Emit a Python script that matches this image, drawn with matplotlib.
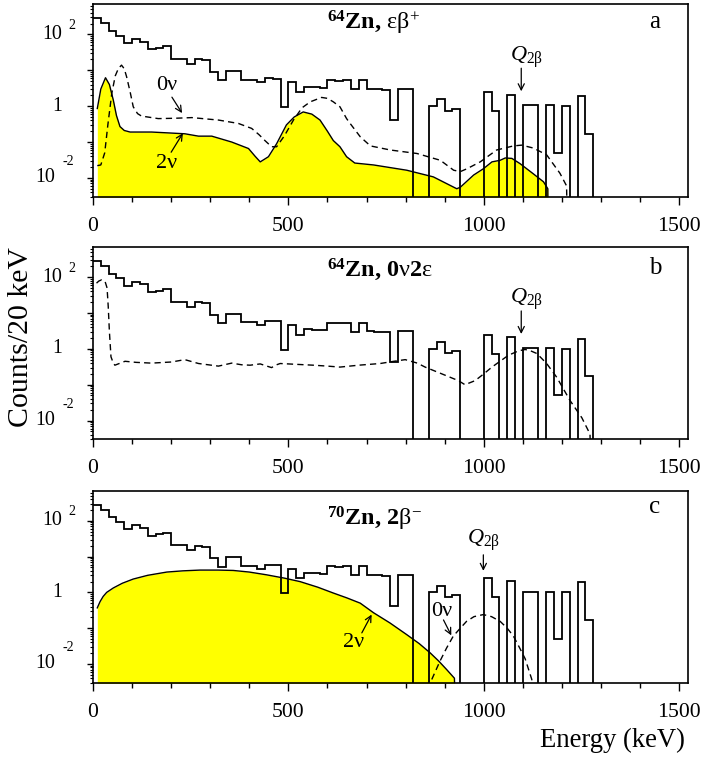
import numpy as np
import matplotlib
matplotlib.use('Agg')
import matplotlib.pyplot as plt
from matplotlib.ticker import LogLocator, NullFormatter, MultipleLocator, FixedLocator
import matplotlib.transforms as mtransforms

plt.rcParams['font.family'] = ['Liberation Serif', 'DejaVu Serif']
plt.rcParams['mathtext.fontset'] = 'custom'
plt.rcParams['mathtext.rm'] = 'Liberation Serif'
plt.rcParams['mathtext.it'] = 'Liberation Serif:italic'
plt.rcParams['mathtext.bf'] = 'Liberation Serif:bold'

# ---------------- data ----------------
bin_width = 20  # keV
counts = [280, 205, 125, 92, 58, 75, 63, 38, 42, 47,
          20.5, 20.5, 15, 20, 19, 9, 5.2, 9.5, 9.5, 5.5,
          5.5, 4.6, 6.0, 5.8, 0.95, 4.6, 2.5, 3.5, 3.4, 3.3,
          5.4, 5.1, 5.3, 3.0, 5.3, 3.1, 3.0, 2.9, 0.42, 3.1,
          3.1, 0, 0, 1.0, 1.55, 0.75, 0.85, 0, 0, 0,
          2.5, 0.74, 0, 2.1, 0, 1.05, 1.05, 0, 1.05, 0.05,
          1.0, 0, 1.9, 0.17, 0, 0, 0, 0, 0, 0,
          0, 0, 0, 0, 0, 0]

# panel a : 64Zn eps beta+
a_2nu_E = [11, 20, 32, 42, 52, 60, 69, 80, 95, 150, 235, 270, 304, 355, 398, 415,
           428, 449, 470, 495, 515, 538, 560, 581, 600, 615, 632, 649, 670, 718,
           803, 871, 931, 940, 974, 999, 1021, 1042, 1055, 1072, 1093, 1127, 1153,
           1164, 1166]
a_2nu_v = [0.86, 3.0, 6.2, 4.0, 1.47, 0.55, 0.27, 0.21, 0.19, 0.19, 0.17, 0.146,
           0.146, 0.10, 0.066, 0.04, 0.028, 0.039, 0.09, 0.30, 0.5, 0.69, 0.6,
           0.41, 0.2, 0.11, 0.074, 0.039, 0.026, 0.023, 0.0164, 0.0107, 0.005,
           0.0055, 0.012, 0.018, 0.028, 0.031, 0.036, 0.035, 0.025, 0.013,
           0.0078, 0.005, 0]
a_0nu_E = [11, 20, 30, 38, 48, 57, 65, 73, 80, 86, 95, 103, 114, 124, 167, 210,
           253, 290, 321, 372, 406, 425, 440, 457, 470, 490, 513, 535, 556, 585,
           600, 615, 632, 649, 658, 684, 710, 761, 829, 889, 923, 940, 957, 991,
           1033, 1076, 1097, 1127, 1161, 1195, 1212, 1220]
a_0nu_v = [0.022, 0.023, 0.05, 0.3, 2.25, 7, 11.2, 13.9, 11, 6.6, 2.5, 0.96,
           0.62, 0.53, 0.45, 0.46, 0.48, 0.44, 0.41, 0.33, 0.24, 0.16, 0.11,
           0.074, 0.074, 0.15, 0.41, 0.9, 1.32, 1.75, 1.65, 1.32, 0.96, 0.45,
           0.33, 0.14, 0.078, 0.06, 0.048, 0.031, 0.0164, 0.015, 0.018, 0.028,
           0.06, 0.078, 0.082, 0.068, 0.044, 0.0135, 0.006, 0]

# panel b : 64Zn 0nu2eps
b_0nu_E = [9, 15, 22, 31, 36, 39, 42, 46, 52, 56, 82, 110, 150, 201, 235, 270,
           321, 355, 380, 402, 428, 445, 457, 470, 479, 520, 564, 600, 632, 680,
           735, 770, 799, 830, 850, 893, 935, 952, 978, 1000, 1021, 1063, 1089,
           1106, 1120, 1136, 1161, 1187, 1221, 1251, 1272, 1280]
b_0nu_v = [68, 78, 84, 75, 50, 15, 3, 0.6, 0.4, 0.35, 0.45, 0.42, 0.4, 0.43,
           0.5, 0.39, 0.33, 0.4, 0.36, 0.35, 0.38, 0.33, 0.3, 0.36, 0.39, 0.37,
           0.35, 0.33, 0.31, 0.35, 0.39, 0.45, 0.5, 0.4, 0.31, 0.2, 0.13, 0.1,
           0.13, 0.2, 0.31, 0.66, 0.88, 0.96, 0.88, 0.74, 0.39, 0.16, 0.036,
           0.012, 0.0042, 0]

# panel c : 70Zn 2beta-
c_2nu_E = [11, 18, 26, 35, 52, 75, 103, 140, 189, 230, 274, 320, 359, 400, 444,
           490, 530, 575, 615, 650, 684, 718, 760, 803, 835, 863, 885, 905, 925,
           936]
c_2nu_v = [0.37, 0.55, 0.77, 1.0, 1.33, 1.8, 2.36, 3.0, 3.7, 4.0, 4.2, 4.2, 4.1,
           3.7, 3.1, 2.5, 2.0, 1.4, 0.96, 0.7, 0.5, 0.27, 0.14, 0.066, 0.037,
           0.0204, 0.012, 0.0070, 0.004, 0]
c_0nu_E = [867, 888, 905, 922, 940, 956, 975, 999, 1020, 1042, 1060, 1076, 1092,
           1106, 1123, 1130]
c_0nu_v = [0.0037, 0.012, 0.028, 0.06, 0.1, 0.155, 0.21, 0.24, 0.21, 0.155, 0.1,
           0.06, 0.028, 0.014, 0.0037, 0]

titles = [r"$^{\mathbf{64}}$Zn, $\mathrm{εβ}^{+}$",
          r"$^{\mathbf{64}}$Zn, 0$\mathrm{ν}$2$\mathrm{ε}$",
          r"$^{\mathbf{70}}$Zn, 2$\mathrm{β}^{-}$"]
panel_letters = ['a', 'b', 'c']
q_label = r"$Q_{\mathrm{2β}}$"

# ---------------- figure ----------------
W, H = 704, 761
fig = plt.figure(figsize=(W / 100, H / 100), dpi=100)

boxes = [(93, 4.5, 687.7, 196.7), (93, 247.3, 687.7, 439.3), (93, 491, 687.7, 682.7)]
title_y = [0.905, 0.88, 0.857]
letter_y = [0.91, 0.89, 0.918]

FLOOR = 1e-7
YLO, YHI = 3.0e-3, 680
edges = np.arange(len(counts) + 1) * bin_width
cvals = np.maximum(np.array(counts, float), FLOOR)

axes = []
for i, (x0, y0, x1, y1) in enumerate(boxes):
    ax = fig.add_axes([x0 / W, 1 - y1 / H, (x1 - x0) / W, (y1 - y0) / H])
    axes.append(ax)
    ax.set_yscale('log')
    ax.set_xlim(0, 1522)
    ax.set_ylim(YLO, YHI)
    for s in ax.spines.values():
        s.set_linewidth(1.2)
    ax.xaxis.set_major_locator(FixedLocator([0, 500, 1000, 1500]))
    ax.xaxis.set_minor_locator(MultipleLocator(100))
    ax.yaxis.set_major_locator(LogLocator(base=10, numticks=20))
    ax.yaxis.set_minor_locator(LogLocator(base=10, subs=np.arange(2, 10), numticks=20))
    ax.yaxis.set_major_formatter(NullFormatter())
    ax.yaxis.set_minor_formatter(NullFormatter())
    ax.tick_params(axis='x', which='major', direction='out', length=5.5, width=1.0,
                   labelsize=15.6, pad=9, top=False)
    ax.tick_params(axis='x', which='minor', direction='out', length=3.5, width=1.0, top=False)
    ax.tick_params(axis='y', which='major', direction='out', length=4.0, width=1.0, right=False)
    ax.tick_params(axis='y', which='minor', direction='out', length=2.5, width=0.8, right=False)

    # custom y labels (ROOT style)
    tr = mtransforms.blended_transform_factory(ax.transAxes, ax.transData)
    ax.text(-0.052, 100, "10", transform=tr, ha='right', va='center', fontsize=14.4)
    ax.text(-0.042, 10 ** 2.25, "2", transform=tr, ha='left', va='center', fontsize=10)
    ax.text(-0.052, 1, "1", transform=tr, ha='right', va='center', fontsize=14.4)
    ax.text(-0.064, 0.01, "10", transform=tr, ha='right', va='center', fontsize=14.4)
    ax.text(-0.051, 10 ** -1.55, "-2", transform=tr, ha='left', va='center', fontsize=10)

    ax.text(0.393, title_y[i], titles[i], transform=ax.transAxes, ha='left', va='center',
            fontsize=17.5, fontweight='bold')
    ax.text(0.945, letter_y[i], panel_letters[i], transform=ax.transAxes, ha='center',
            va='center', fontsize=18)

dash = (0, (4.5, 3))
arw = dict(arrowstyle='->', lw=0.9, color='k', shrinkA=0, shrinkB=0, mutation_scale=11)


def arrow(ax, start, end):
    ax.annotate("", xy=end, xytext=start, arrowprops=arw)


# panel a
ax = axes[0]
v = np.maximum(np.array(a_2nu_v), FLOOR)
ax.fill_between(a_2nu_E, v, FLOOR, color='#ffff00', lw=0, zorder=1)
ax.plot(a_2nu_E, v, color='k', lw=1.0, zorder=2)
ax.plot(a_0nu_E, np.maximum(np.array(a_0nu_v), FLOOR), color='k', lw=1.0, ls=dash, zorder=2)
ax.stairs(cvals, edges, baseline=None, color='k', lw=1.3, zorder=3)
ax.text(189, 3.8, "0ν", ha='center', va='center', fontsize=16)
arrow(ax, (202, 1.78), (228, 0.64))
ax.text(189, 0.025, "2ν", ha='center', va='center', fontsize=16)
arrow(ax, (200, 0.052), (230, 0.176))
arrow(ax, (1096, 11.4), (1096, 2.6))
ax.text(1110, 23.6, q_label, ha='center', va='center', fontsize=16)

# panel b
ax = axes[1]
ax.plot(b_0nu_E, np.maximum(np.array(b_0nu_v), FLOOR), color='k', lw=1.0, ls=dash, zorder=2)
ax.stairs(cvals, edges, baseline=None, color='k', lw=1.3, zorder=3)
arrow(ax, (1096, 11.4), (1096, 2.6))
ax.text(1110, 23.6, q_label, ha='center', va='center', fontsize=16)

# panel c
ax = axes[2]
v = np.maximum(np.array(c_2nu_v), FLOOR)
ax.fill_between(c_2nu_E, v, FLOOR, color='#ffff00', lw=0, zorder=1)
ax.plot(c_2nu_E, v, color='k', lw=1.0, zorder=2)
ax.plot(c_0nu_E, np.maximum(np.array(c_0nu_v), FLOOR), color='k', lw=1.0, ls=dash, zorder=2)
ax.stairs(cvals, edges, baseline=None, color='k', lw=1.3, zorder=3)
ax.text(893, 0.3, "0ν", ha='center', va='center', fontsize=16)
arrow(ax, (897, 0.17), (917, 0.063))
ax.text(667, 0.039, "2ν", ha='center', va='center', fontsize=16)
arrow(ax, (688, 0.074), (713, 0.24))
arrow(ax, (999, 11.2), (999, 4.0))
ax.text(999, 29, q_label, ha='center', va='center', fontsize=16)

fig.text(21 / W, 1 - 337.5 / H, "Counts/20 keV", rotation=90, ha='center', va='center',
         fontsize=21.5)
fig.text(685 / W, 1 - 740 / H, "Energy (keV)", ha='right', va='center', fontsize=19.2)

fig.savefig('out.png', dpi=100)
